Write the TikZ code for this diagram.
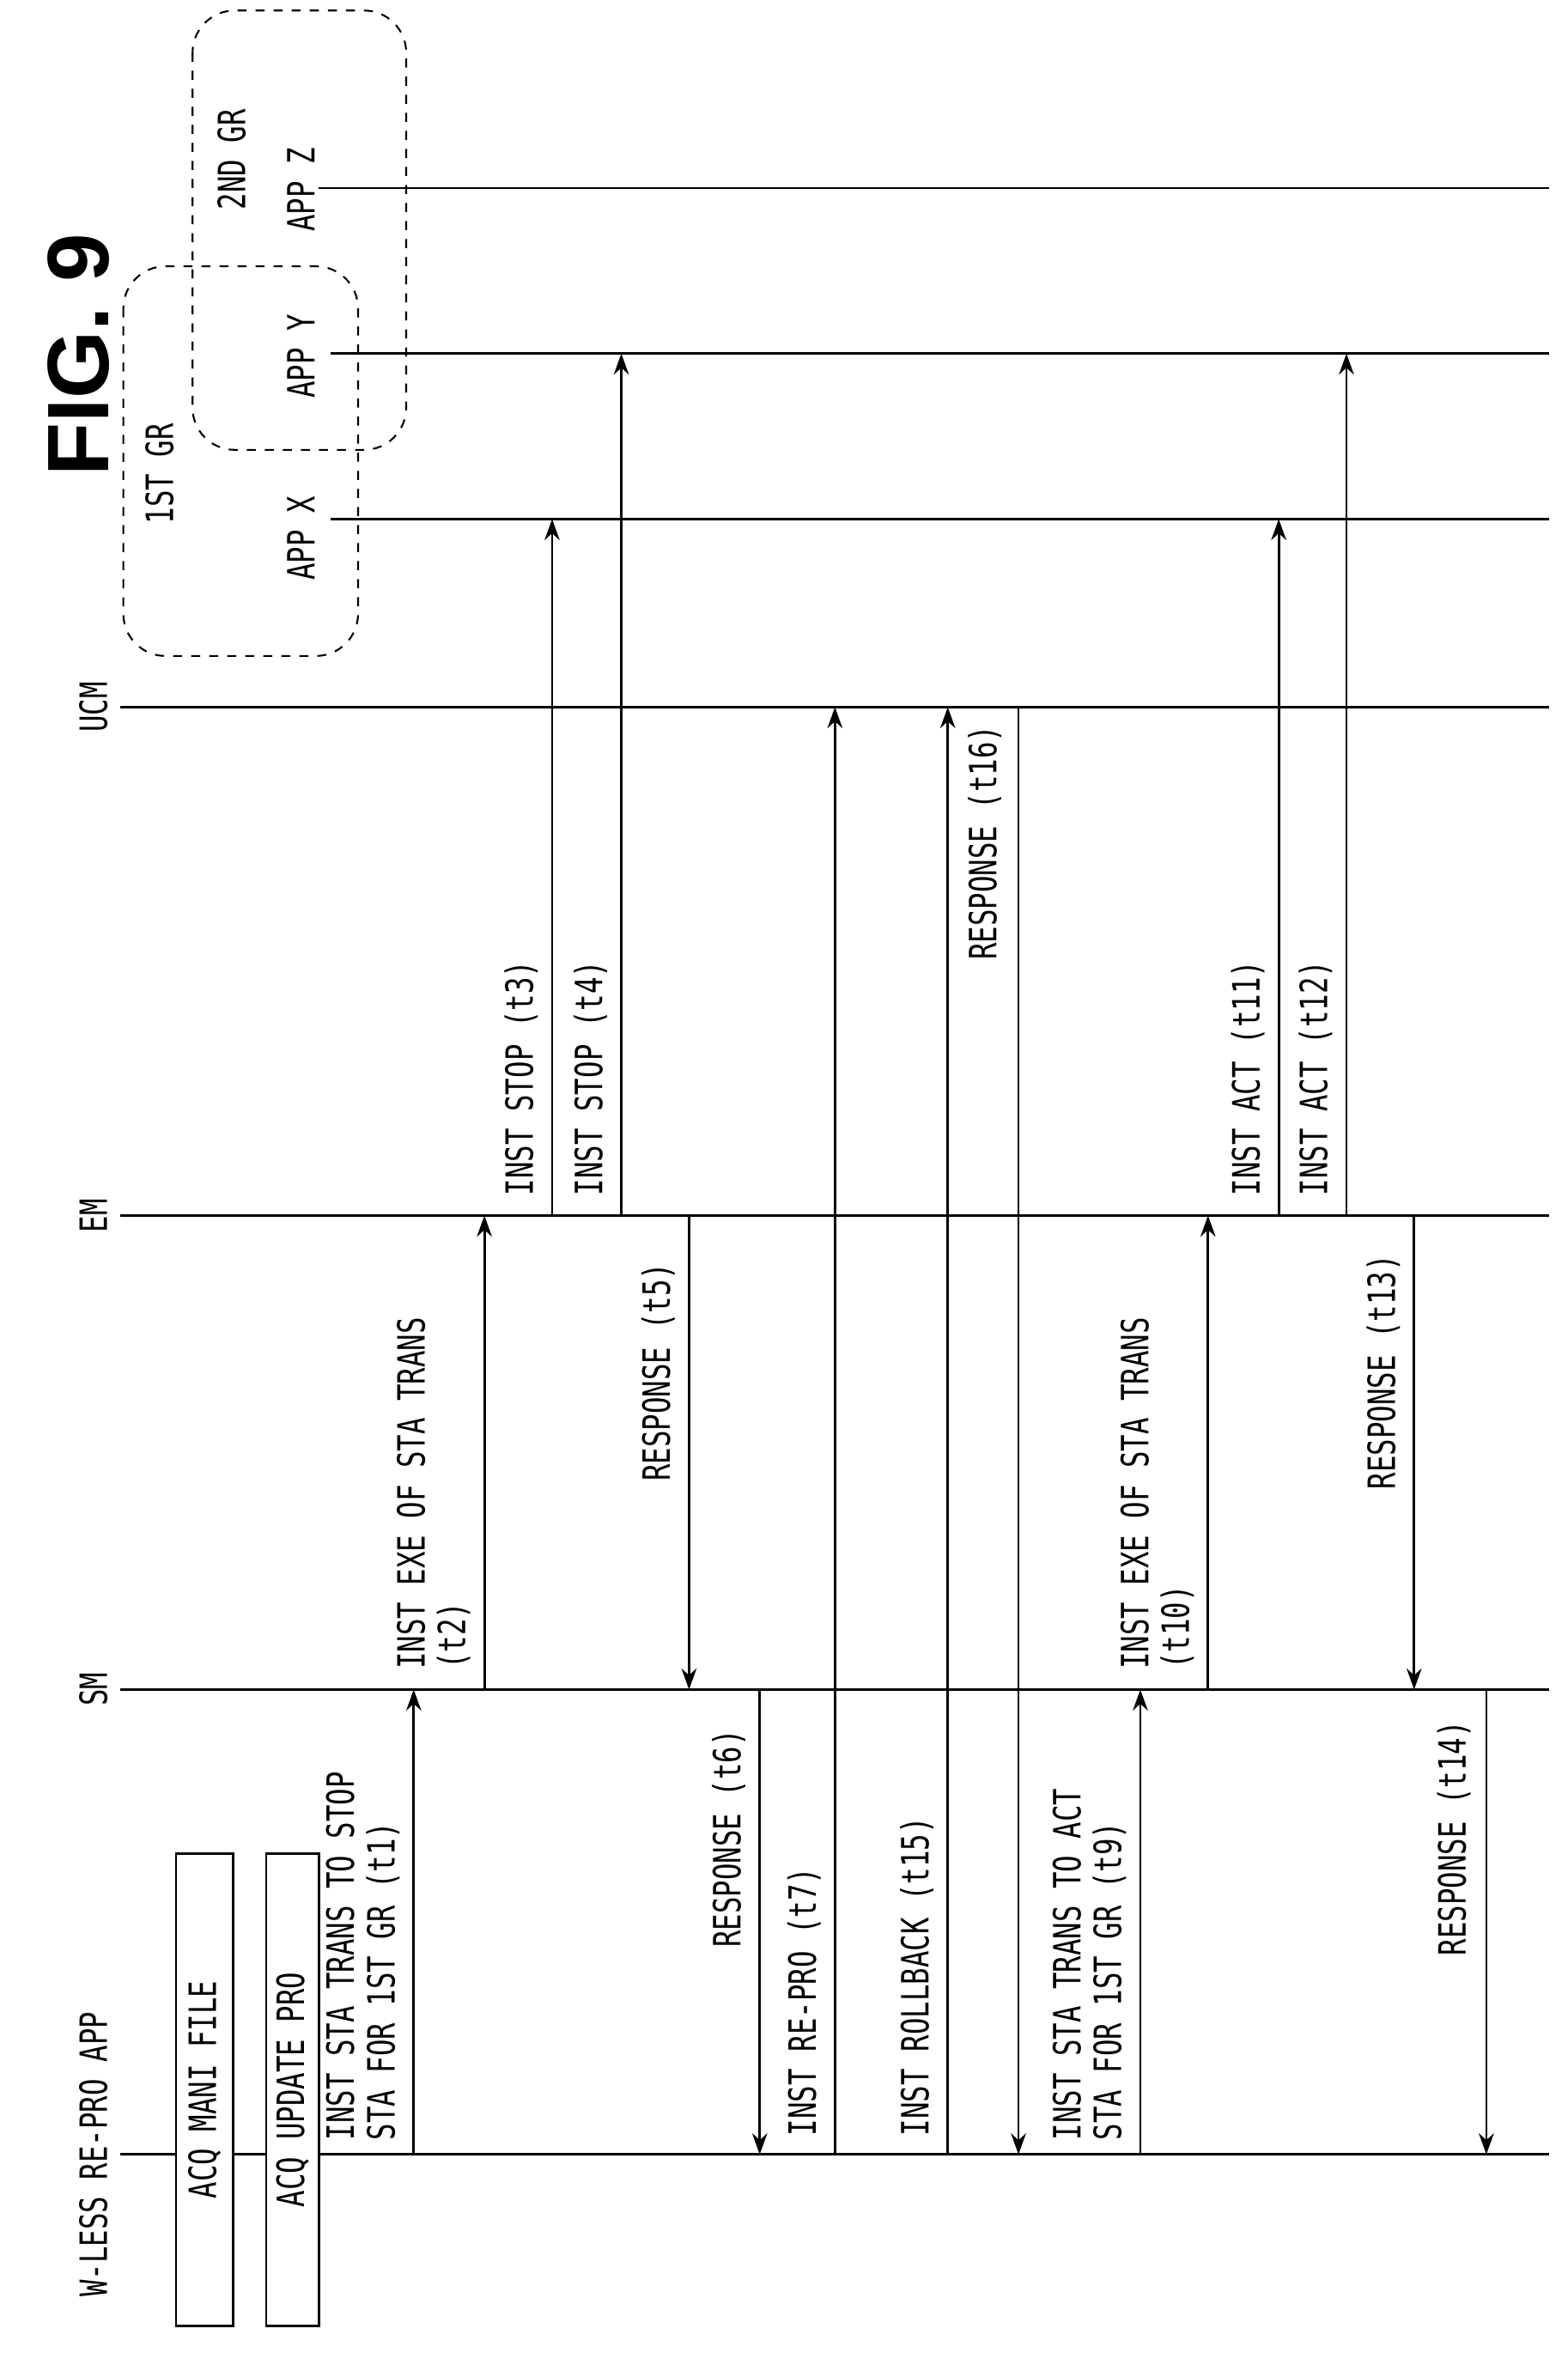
\documentclass[tikz,border=0pt]{standalone}
\usepackage{fontspec}
\setmainfont{Liberation Sans}
\newfontfamily\monof{DejaVu Sans Mono}
\usetikzlibrary{arrows.meta}
\newcommand{\T}[1]{\scalebox{0.74}[1]{#1}}
\begin{document}
\begin{tikzpicture}[x=0.5pt,y=-0.5pt,
  lbl/.style={rotate=90,font=\monof\fontsize{12.5}{13.5}\selectfont,inner sep=1pt,align=left},
  life/.style={line width=0.8pt},
  msg/.style={line width=0.8pt,-{Stealth[length=7pt,width=5pt]}},
  grp/.style={dashed,line width=0.6pt,rounded corners=14pt},
  box/.style={line width=0.7pt,fill=white}]
\useasboundingbox (0,0) rectangle (1042,1568);
% title
\node[rotate=90,font=\bfseries\fontsize{29}{29}\selectfont] (fig) at (52,236) {FIG. 9};
% lifelines
\coordinate (Ws) at (80,1432); \coordinate (We) at (1030,1432);
\coordinate (Ss) at (80,1123); \coordinate (Se) at (1030,1123);
\coordinate (Es) at (80,808); \coordinate (Ee) at (1030,808);
\coordinate (Us) at (80,470); \coordinate (Ue) at (1030,470);
\coordinate (Xs) at (220,345); \coordinate (Xe) at (1030,345);
\coordinate (Ys) at (220,235); \coordinate (Ye) at (1030,235);
\coordinate (Zs) at (212,125); \coordinate (Ze) at (1030,125);
\foreach \a/\b in {Ws/We,Ss/Se,Es/Ee,Us/Ue,Xs/Xe,Ys/Ye,Zs/Ze} \draw[life] (\a) -- (\b);
\node[lbl] (lw) at (62,1432) {\T{W-LESS RE-PRO APP}};
\node[lbl] (ls) at (62,1123) {\T{SM}};
\node[lbl] (le) at (62,808) {\T{EM}};
\node[lbl] (lu) at (62,470) {\T{UCM}};
\node[lbl] (lx) at (200,358) {\T{APP X}};
\node[lbl] (ly) at (200,237) {\T{APP Y}};
\node[lbl] (lz) at (200,126) {\T{APP Z}};
\node[lbl] (g1) at (106,315) {\T{1ST GR}};
\node[lbl] (g2) at (154,106) {\T{2ND GR}};
\draw[grp] (82,177) rectangle (238,436);
\draw[grp] (128,7) rectangle (270,299);
% boxes
\draw[box] (117,1232) rectangle (155,1546);
\draw[box] (177,1232) rectangle (212,1546);
\node[lbl] (b1) at (136,1389) {\T{ACQ MANI FILE}};
\node[lbl] (b2) at (194.5,1389) {\T{ACQ UPDATE PRO}};
% messages
\foreach \x/\f/\t in {275/1432/1123, 322/1123/808, 367/808/345, 413/808/235, 458/808/1123, 505/1123/1432, 555/1432/470, 630/1432/470, 677/470/1432, 758/1432/1123, 803/1123/808, 850/808/345, 895/808/235, 940/808/1123, 988/1123/1432}
  \draw[msg] (\x,\f) -- (\x,\t);
\node[lbl,anchor=south west] (m1) at (268,1425) {\T{INST STA TRANS TO STOP}\\\T{STA FOR 1ST GR (t1)}};
\node[lbl,anchor=south west] (m2) at (315,1112) {\T{INST EXE OF STA TRANS}\\\T{(t2)}};
\node[lbl,anchor=south west] (m3) at (360,797) {\T{INST STOP (t3)}};
\node[lbl,anchor=south west] (m4) at (406,797) {\T{INST STOP (t4)}};
\node[lbl,anchor=south] (m5) at (451,912) {\T{RESPONSE (t5)}};
\node[lbl,anchor=south] (m6) at (498,1222) {\T{RESPONSE (t6)}};
\node[lbl,anchor=south west] (m7) at (548,1422) {\T{INST RE-PRO (t7)}};
\node[lbl,anchor=south west] (m15) at (623,1422) {\T{INST ROLLBACK (t15)}};
\node[lbl,anchor=south] (m16) at (668,560) {\T{RESPONSE (t16)}};
\node[lbl,anchor=south west] (m9) at (751,1425) {\T{INST STA TRANS TO ACT}\\\T{STA FOR 1ST GR (t9)}};
\node[lbl,anchor=south west] (m10) at (796,1112) {\T{INST EXE OF STA TRANS}\\\T{(t10)}};
\node[lbl,anchor=south west] (m11) at (843,797) {\T{INST ACT (t11)}};
\node[lbl,anchor=south west] (m12) at (888,797) {\T{INST ACT (t12)}};
\node[lbl,anchor=south] (m13) at (933,912) {\T{RESPONSE (t13)}};
\node[lbl,anchor=south] (m14) at (980,1222) {\T{RESPONSE (t14)}};
\end{tikzpicture}
\end{document}
